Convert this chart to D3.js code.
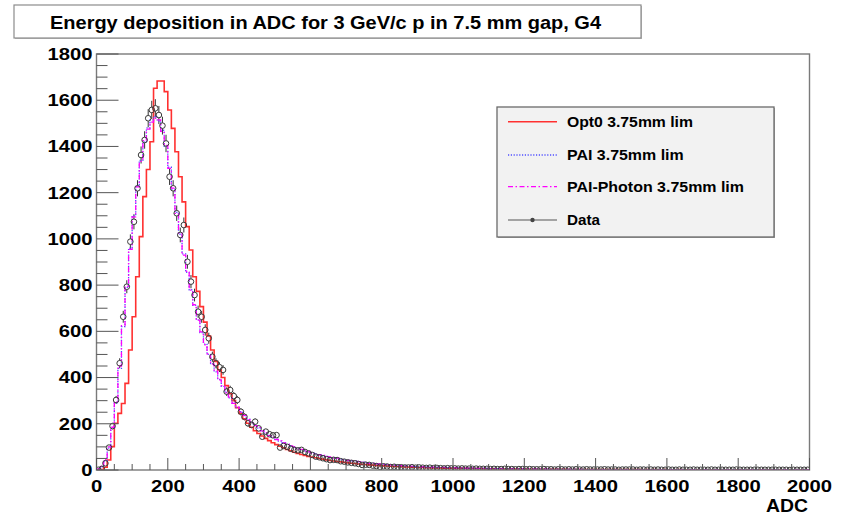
<!DOCTYPE html>
<html><head><meta charset="utf-8">
<script src="https://cdn.jsdelivr.net/npm/d3@7"></script>
<style>html,body{margin:0;padding:0;background:#fff;}svg{display:block;}</style>
</head><body>
<svg id="c" width="844" height="514"></svg>
<script>
const titleText = "Energy deposition in ADC for 3 GeV/c p in 7.5 mm gap, G4";
const xAxisTitle = "ADC";
const binWidth = 10;
const xTickValues = [0,200,400,600,800,1000,1200,1400,1600,1800,2000];
const yTickValues = [0,200,400,600,800,1000,1200,1400,1600,1800];
const seriesNames = ["Opt0 3.75mm lim","PAI 3.75mm lim","PAI-Photon 3.75mm lim","Data"];

const dataCounts = [1,5,29,97,190,303,462,663,793,988,
1074,1219,1363,1428,1522,1558,1565,1536,1490,1413,
1269,1219,1111,1017,1060,901,815,757,685,663,
606,570,490,462,445,433,339,346,320,303,
252,230,202,195,209,180,144,166,155,150,
151,97,104,100,92,87,85,87,78,72,
65,58,55,51,47,43,44,43,38,36,
33,31,29,26,22,23,22,19,17,14,
16,15,13,14,12,12,11,11,12,10,
11,10,9,10,8,9,8,7,8,7,
7,6,7,6,6,5,6,5,5,5,
4,5,4,4,5,4,4,3,4,4,
3,4,3,3,3,4,3,3,2,3,
3,2,3,2,3,2,2,3,2,2,
2,2,3,2,2,2,1,2,2,2,
2,1,2,2,1,2,1,2,1,1,
2,1,1,2,1,1,1,2,1,1,
1,1,2,1,1,1,1,1,1,2,
1,1,1,1,1,1,1,1,1,1,
1,1,1,1,0,1,1,1,1,1];

const opt0Counts = [0,2,12,43,101,202,245,288,375,519,
663,836,1010,1183,1300,1420,1652,1683,1683,1637,
1558,1478,1377,1269,1160,1053,952,836,773,707,
640,580,519,470,433,400,365,330,300,270,
245,222,202,185,170,158,147,137,127,118,
110,103,96,89,83,77,72,67,63,59,
56,53,50,47,44,41,39,37,35,33,
31,29,28,26,25,24,22,21,20,19,
18,17,16,15,15,14,13,13,12,12,
11,11,10,10,9,9,9,8,8,8,
7,7,7,7,6,6,6,6,5,5,
5,5,5,5,4,4,4,4,4,4,
4,3,3,3,3,3,3,3,3,3,
3,3,2,2,2,2,2,2,2,2,
2,2,2,2,2,2,2,2,2,2,
2,2,2,1,2,1,2,1,1,2,
1,1,1,2,1,1,1,1,1,1,
1,1,1,1,1,1,1,1,1,1,
1,1,1,1,1,1,1,1,1,1,
1,1,1,0,1,1,1,0,1,1];

const paiCounts = [4,14,40,95,180,290,440,620,790,960,
1100,1230,1340,1420,1480,1515,1530,1510,1470,1400,
1310,1215,1115,1020,935,855,780,712,650,595,
545,500,460,425,392,362,336,312,290,270,
252,235,220,206,193,181,170,160,150,141,
133,125,118,111,105,99,93,88,83,78,
74,70,66,62,59,56,53,50,47,45,
42,40,38,36,34,32,30,29,27,26,
24,23,22,21,20,19,18,17,16,15,
15,14,13,13,12,12,11,11,10,10,
9,9,9,8,8,8,7,7,7,7,
6,6,6,6,5,5,5,5,5,5,
4,4,4,4,4,4,4,3,3,3,
3,3,3,3,3,3,3,2,2,2,
2,2,2,2,2,2,2,2,2,2,
2,2,2,2,2,2,1,2,2,1,
2,1,1,2,1,1,2,1,1,1,
1,1,1,1,1,1,1,1,1,1,
1,1,1,1,1,1,1,1,1,1,
1,1,1,1,1,0,1,1,1,1];

const paiPhotonCounts = [5,16,45,100,185,295,450,625,795,955,
1095,1225,1335,1425,1475,1505,1522,1515,1465,1405,
1305,1220,1110,1025,930,860,778,715,648,598,
542,503,458,428,390,365,334,315,288,272,
250,237,218,208,192,183,169,161,149,142,
132,126,117,112,104,100,92,89,82,79,
73,71,65,63,58,57,52,51,46,45,
41,40,37,36,33,32,29,29,26,26,
24,23,22,21,20,19,18,18,16,16,
15,14,14,13,12,12,11,11,10,10,
10,9,9,8,8,8,7,7,7,7,
6,6,6,6,6,5,5,5,5,5,
4,4,4,4,4,4,3,3,3,3,
3,3,3,3,3,3,2,2,2,2,
2,2,2,2,2,2,2,2,2,2,
2,2,2,1,2,2,2,1,2,1,
1,2,1,1,1,2,1,1,1,1,
1,1,1,1,1,1,1,1,1,1,
1,1,1,1,1,1,1,1,1,1,
1,1,1,1,1,1,1,1,0,1];

// ---------- layout ----------
const svg = d3.select("#c");
const FONT = "'Liberation Sans', Arial, Helvetica, sans-serif";
const frame = {left: 96.5, right: 809.5, top: 54, bottom: 470};
const x = d3.scaleLinear().domain([0, 2000]).range([frame.left, frame.right]);
const y = d3.scaleLinear().domain([0, 1800]).range([frame.bottom, frame.top]);

function label(g, tx, ty, text, size, anchor, width, color) {
  let x0 = tx;
  if (anchor === "end") x0 = tx - width;
  else if (anchor === "middle") x0 = tx - width / 2;
  return g.append("text").attr("x", x0).attr("y", ty)
    .attr("font-family", FONT).attr("font-weight", "bold")
    .attr("font-size", size).attr("fill", color || "#000")
    .attr("textLength", width).attr("lengthAdjust", "spacingAndGlyphs")
    .text(text);
}

// title box
svg.append("rect").attr("x", 15).attr("y", 6).attr("width", 627).attr("height", 33).attr("fill", "#bbb");
svg.append("rect").attr("x", 14).attr("y", 5).attr("width", 627).attr("height", 33)
  .attr("fill", "#fff").attr("stroke", "#8c8c8c").attr("stroke-width", 1.2);
label(svg, 50, 28.5, titleText, 17.8, "start", 551);

// clip
svg.append("clipPath").attr("id", "plotclip").append("rect")
  .attr("x", frame.left).attr("y", frame.top - 2)
  .attr("width", frame.right - frame.left).attr("height", frame.bottom - frame.top + 2);

const plot = svg.append("g").attr("clip-path", "url(#plotclip)");

function histPath(counts) {
  const pts = [[0, 0]];
  counts.forEach((v, i) => { pts.push([i * binWidth, v]); });
  pts.push([counts.length * binWidth, counts[counts.length - 1]]);
  pts.push([counts.length * binWidth, 0]);
  return d3.line().x(d => x(d[0])).y(d => y(d[1])).curve(d3.curveStepAfter)(pts);
}

const styles = [
  {counts: opt0Counts, color: "#ff3030", width: 1.6, dash: null},
  {counts: paiCounts, color: "#5050ff", width: 1.3, dash: "1.2,1.6"},
  {counts: paiPhotonCounts, color: "#ff00ff", width: 1.3, dash: "5,2.5,1.5,2.5"}
];

// data markers with errors
const dg = plot.append("g");
const R = 2.8;
dataCounts.forEach((v, i) => {
  const cx = x(i * binWidth + binWidth / 2);
  const cy = y(v);
  const e = Math.sqrt(v);
  const yt = y(v + e), yb = y(v - e);
  if (cy - R > yt) dg.append("line").attr("x1", cx).attr("x2", cx).attr("y1", yt).attr("y2", cy - R)
    .attr("stroke", "#333").attr("stroke-width", 1);
  if (yb > cy + R) dg.append("line").attr("x1", cx).attr("x2", cx).attr("y1", cy + R).attr("y2", yb)
    .attr("stroke", "#333").attr("stroke-width", 1);
});

styles.forEach(s => {
  plot.append("path").attr("d", histPath(s.counts)).attr("fill", "none")
    .attr("stroke", s.color).attr("stroke-width", s.width)
    .attr("stroke-dasharray", s.dash);
});

dataCounts.forEach((v, i) => {
  plot.append("circle").attr("cx", x(i * binWidth + binWidth / 2)).attr("cy", y(v)).attr("r", R)
    .attr("fill", "none").attr("stroke", "#3a3a3a").attr("stroke-width", 1);
});

// frame
svg.append("rect").attr("x", frame.left).attr("y", frame.top)
  .attr("width", frame.right - frame.left).attr("height", frame.bottom - frame.top)
  .attr("fill", "none").attr("stroke", "#7a7a7a").attr("stroke-width", 1.4);

// ticks
const tk = svg.append("g").attr("stroke", "#555").attr("stroke-width", 1);
d3.range(0, 1801, 50).forEach(v => {
  const major = v % 200 === 0;
  tk.append("line").attr("x1", frame.left).attr("x2", frame.left + (major ? 22 : 11))
    .attr("y1", y(v)).attr("y2", y(v));
});
d3.range(0, 2001, 50).forEach(v => {
  const major = v % 200 === 0;
  tk.append("line").attr("x1", x(v)).attr("x2", x(v))
    .attr("y1", frame.bottom).attr("y2", frame.bottom - (major ? 12 : 6));
});

// tick labels
const DIGIT = 11.25;
yTickValues.forEach(v => {
  const s = String(v);
  label(svg, 92.5, y(v) + 5.9, s, 16.5, "end", s.length * DIGIT);
});
xTickValues.forEach(v => {
  const s = String(v);
  label(svg, x(v), 491.5, s, 16.5, "middle", s.length * DIGIT);
});
label(svg, 808, 511.5, xAxisTitle, 19, "end", 42);

// legend
const lg = svg.append("g");
lg.append("rect").attr("x", 498).attr("y", 108).attr("width", 277).attr("height", 130).attr("fill", "#aaa");
lg.append("rect").attr("x", 497).attr("y", 107).attr("width", 277).attr("height", 130)
  .attr("fill", "#f2f2f2").attr("stroke", "#6a6a6a").attr("stroke-width", 1.3);
const rowY = [121.7, 155, 186.7, 220];
const textW = [126, 116.7, 177, 33];
seriesNames.forEach((name, i) => {
  const ry = rowY[i];
  if (i < 3) {
    const s = styles[i];
    lg.append("line").attr("x1", 508).attr("x2", 557).attr("y1", ry).attr("y2", ry)
      .attr("stroke", s.color).attr("stroke-width", s.width).attr("stroke-dasharray", s.dash);
  } else {
    lg.append("line").attr("x1", 508).attr("x2", 557).attr("y1", ry).attr("y2", ry)
      .attr("stroke", "#555").attr("stroke-width", 1.2);
    lg.append("circle").attr("cx", 532.5).attr("cy", ry).attr("r", 2.2).attr("fill", "#444");
  }
  label(lg, 567, ry + 5, name, 14, "start", textW[i]);
});
</script>
</body></html>
